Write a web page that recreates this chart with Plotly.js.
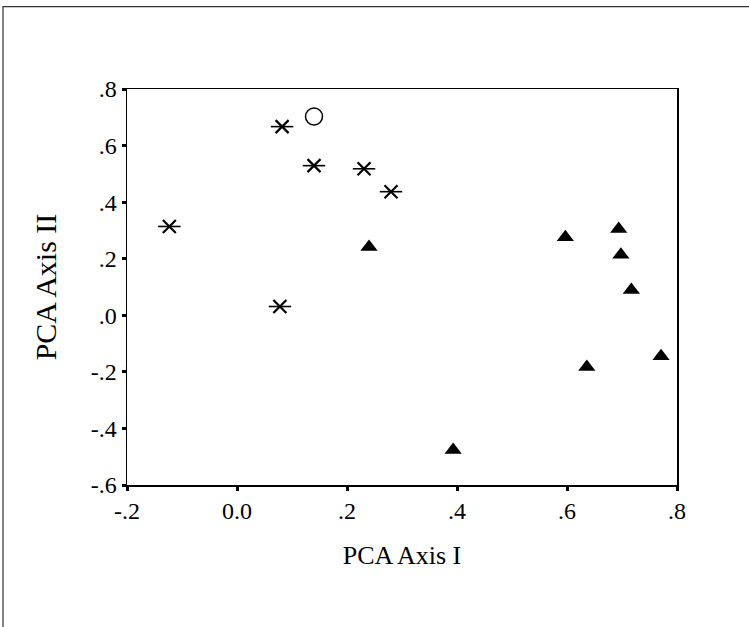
<!DOCTYPE html>
<html>
<head>
<meta charset="utf-8">
<script src="https://cdn.plot.ly/plotly-3.0.1.min.js"></script>
<style>html,body{margin:0;padding:0;background:#fff;}#chart{width:749px;height:627px;}</style>
</head>
<body>
<div id="chart"></div>
<script>
// Group 1: asterisks
var starX = [-0.123, 0.082, 0.140, 0.231, 0.280, 0.078];
var starY = [0.314, 0.667, 0.529, 0.518, 0.437, 0.031];
// Group 2: open circle
var circX = [0.140];
var circY = [0.703];
// Group 3: filled triangles
var triX = [0.240, 0.597, 0.694, 0.698, 0.717, 0.636, 0.771, 0.393];
var triY = [0.241, 0.276, 0.305, 0.214, 0.089, -0.183, -0.145, -0.476];

var xTickVals = [-0.2, 0, 0.2, 0.4, 0.6, 0.8];
var xTickText = ['-.2', '0.0', '.2', '.4', '.6', '.8'];
var yTickVals = [0.8, 0.6, 0.4, 0.2, 0, -0.2, -0.4, -0.6];
var yTickText = ['.8', '.6', '.4', '.2', '.0', '-.2', '-.4', '-.6'];

var font = '"Liberation Serif", "Times New Roman", serif';

var traces = [
  {x: starX, y: starY, type: 'scatter', mode: 'markers', hoverinfo: 'x+y',
   marker: {symbol: 'x-thin-open', size: 13, color: '#000', line: {color: '#000', width: 2.2}}},
  {x: starX, y: starY, type: 'scatter', mode: 'markers', hoverinfo: 'skip',
   marker: {symbol: 'line-ew-open', size: 16, color: '#000', line: {color: '#000', width: 1.6}}},
  {x: circX, y: circY, type: 'scatter', mode: 'markers',
   marker: {symbol: 'circle-open', size: 17, color: '#000', line: {color: '#000', width: 1.5}}},
  {x: triX, y: triY, type: 'scatter', mode: 'markers',
   marker: {symbol: 'triangle-up', size: 15, color: '#000', line: {width: 0}}}
];

var layout = {
  width: 749, height: 627,
  margin: {l: 127, r: 72, t: 89, b: 142, pad: 0},
  showlegend: false,
  paper_bgcolor: '#fff', plot_bgcolor: '#fff',
  font: {family: font, color: '#000', size: 24},
  xaxis: {
    range: [-0.2, 0.8], tickvals: xTickVals, ticktext: xTickText,
    showgrid: false, zeroline: false, showline: true, mirror: true,
    linecolor: '#000', linewidth: 1.5,
    ticks: 'outside', ticklen: 4, tickwidth: 3, tickcolor: '#000',
    tickfont: {family: font, size: 24, color: '#000'},
    title: {text: 'PCA Axis I', font: {family: font, size: 26, color: '#000'}, standoff: 22}
  },
  yaxis: {
    range: [-0.6, 0.8], tickvals: yTickVals, ticktext: yTickText,
    showgrid: false, zeroline: false, showline: true, mirror: true,
    linecolor: '#000', linewidth: 1.5,
    ticks: 'outside', ticklen: 4, tickwidth: 3, tickcolor: '#000',
    tickfont: {family: font, size: 24, color: '#000'},
    title: {text: 'PCA Axis II', font: {family: font, size: 30, color: '#000'}, standoff: 25}
  },
  shapes: [
    {type: 'rect', xref: 'paper', yref: 'paper', x0: -0.2255, x1: 3, y0: -3, y1: 1.208,
     line: {color: '#333', width: 1.2}, fillcolor: 'rgba(0,0,0,0)', layer: 'below'}
  ]
};

Plotly.newPlot('chart', traces, layout, {displayModeBar: false, staticPlot: true});
</script>
</body>
</html>
